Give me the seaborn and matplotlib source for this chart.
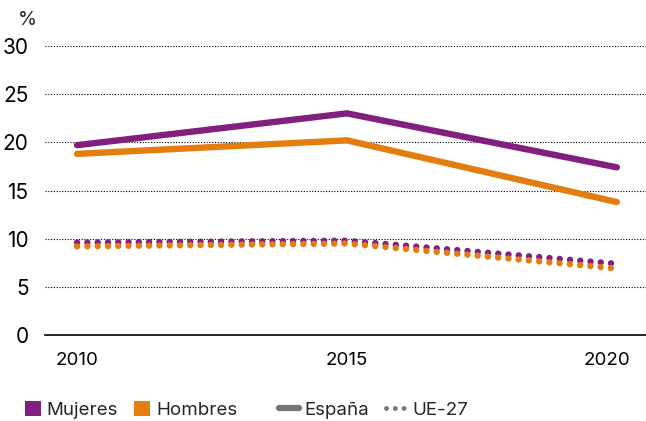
import matplotlib
matplotlib.use("Agg")
import matplotlib.pyplot as plt
import matplotlib.transforms as mtransforms
import numpy as np
import pandas as pd
import seaborn as sns
from matplotlib.lines import Line2D
from matplotlib.patches import Patch

YEARS = [2010, 2015, 2020]
MUJERES_ES = [19.7, 23.0, 17.4]
HOMBRES_ES = [18.8, 20.2, 13.8]
MUJERES_UE = [9.6, 9.8, 7.4]
HOMBRES_UE = [9.2, 9.5, 6.9]

PURPLE = "#82207F"
ORANGE = "#E47D10"
GREY = "#77737A"

sns.set_theme(style="white")
plt.rcParams["font.family"] = ["Inter", "DejaVu Sans"]

rows = []
for sexo, region, vals in [
    ("Mujeres", "España", MUJERES_ES),
    ("Hombres", "España", HOMBRES_ES),
    ("Mujeres", "UE-27", MUJERES_UE),
    ("Hombres", "UE-27", HOMBRES_UE),
]:
    for year, v in zip(YEARS, vals):
        rows.append({"year": year, "value": v, "sexo": sexo, "region": region})
df = pd.DataFrame(rows)

fig = plt.figure(figsize=(6.46, 4.21), dpi=100)
ax = fig.add_axes([0.07, 0.204, 0.93, 0.687])

sns.lineplot(
    data=df, x="year", y="value", hue="sexo", style="region",
    palette={"Mujeres": PURPLE, "Hombres": ORANGE},
    dashes={"España": "", "UE-27": (0.01, 1.6)},
    linewidth=4.6, legend=False, ax=ax,
)
for line in ax.get_lines():
    line.set_dash_capstyle("round")
    line.set_solid_capstyle("round")

ax.set_xlim(2009.41, 2020.54)
ax.set_ylim(0, 30)
ax.set_yticks([0, 5, 10, 15, 20, 25, 30])
ax.set_xticks(YEARS)
ax.set_xlabel("")
ax.set_ylabel("")
for y in [5, 10, 15, 20, 25, 30]:
    ax.axhline(y, color="black", linestyle=(0, (1, 1.5)), linewidth=0.8, zorder=0)
for s in ["top", "right", "left"]:
    ax.spines[s].set_visible(False)
ax.spines["bottom"].set_color("black")
ax.spines["bottom"].set_linewidth(1.2)
ax.tick_params(axis="y", length=0, labelsize=15, pad=12, labelcolor="black")
ax.tick_params(axis="x", length=0, labelsize=13.5, pad=12, labelcolor="black")
last = ax.get_xticklabels()[-1]
last.set_transform(last.get_transform() + mtransforms.ScaledTranslation(-0.1, 0, fig.dpi_scale_trans))
fig.text(0.028, 0.952, "%", fontsize=14, ha="left", va="center")

leg_kw = dict(
    loc="lower left", frameon=False, fontsize=13.5, handleheight=0.85,
    handletextpad=0.3, columnspacing=0.9,
)
sex_handles = [
    Patch(facecolor=PURPLE, edgecolor="none"),
    Patch(facecolor=ORANGE, edgecolor="none"),
]
leg1 = fig.legend(
    sex_handles, ["Mujeres", "Hombres"], ncol=2,
    bbox_to_anchor=(0.012, -0.035), handlelength=0.85, **leg_kw,
)
region_handles = [
    Line2D([], [], color=GREY, linewidth=4.5, solid_capstyle="round"),
    Line2D([], [], color=GREY, linewidth=3.5, linestyle=(0, (0.01, 1.8)), dash_capstyle="round"),
]
fig.legend(
    region_handles, ["España", "UE-27"], ncol=2,
    bbox_to_anchor=(0.405, -0.035), handlelength=1.1, **leg_kw,
)

fig.savefig("out.png", dpi=100)
